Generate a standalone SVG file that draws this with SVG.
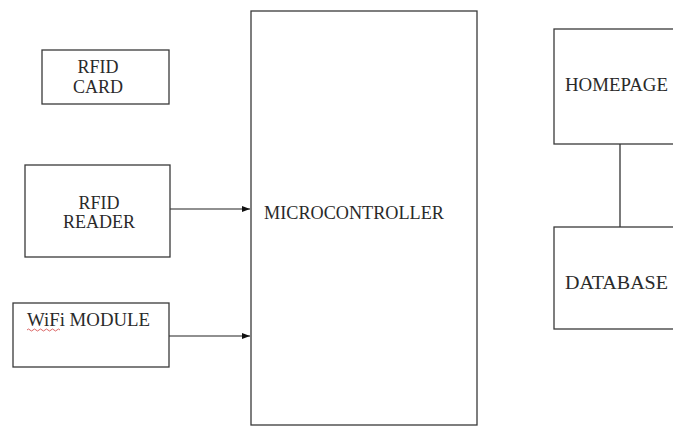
<svg xmlns="http://www.w3.org/2000/svg" width="673" height="426" viewBox="0 0 673 426">
<style>
.box{fill:#fff;stroke:#3a3a3a;stroke-width:1.3}
.lbl{font-family:"Liberation Serif","Times New Roman",serif;font-size:18px;fill:#2a2a2a}
.c{text-anchor:middle}
.wire{stroke:#222;stroke-width:1.2;fill:none}
</style>
<defs>
<marker id="ah" markerWidth="8" markerHeight="6" refX="8" refY="3" orient="auto" markerUnits="userSpaceOnUse">
<path d="M0,0 L8,3 L0,6 Z" fill="#111"/>
</marker>
</defs>
<rect width="673" height="426" fill="#fff"/>
<g id="connectors">
<line class="wire" x1="170" y1="209" x2="250" y2="209" marker-end="url(#ah)"/>
<line class="wire" x1="169" y1="336" x2="250" y2="336" marker-end="url(#ah)"/>
<line class="wire" x1="620" y1="144" x2="620" y2="227"/>
</g>
<g id="rfid-card">
<rect class="box" x="42" y="50" width="127" height="54"/>
<text class="lbl c" x="98" y="73">RFID</text>
<text class="lbl c" x="98" y="93">CARD</text>
</g>
<g id="rfid-reader">
<rect class="box" x="25" y="165" width="145" height="92"/>
<text class="lbl c" x="99" y="209">RFID</text>
<text class="lbl c" x="99" y="228">READER</text>
</g>
<g id="wifi-module">
<rect class="box" x="13" y="303" width="156" height="64"/>
<text class="lbl" x="27" y="326" textLength="123" lengthAdjust="spacingAndGlyphs">WiFi MODULE</text>
<path d="M27,330 q1.5,-2 3,0 t3,0 t3,0 t3,0 t3,0 t3,0 t3,0 t3,0 t3,0 t3,0 t3,0" fill="none" stroke="#d04040" stroke-width="0.8"/>
</g>
<g id="microcontroller">
<rect class="box" x="251" y="11" width="226" height="414"/>
<text class="lbl" x="264" y="219" textLength="180" lengthAdjust="spacingAndGlyphs">MICROCONTROLLER</text>
</g>
<g id="homepage">
<rect class="box" x="554" y="29" width="130" height="115"/>
<text class="lbl" x="565" y="91" textLength="103" lengthAdjust="spacingAndGlyphs">HOMEPAGE</text>
</g>
<g id="database">
<rect class="box" x="554" y="227" width="130" height="102"/>
<text class="lbl" x="565" y="289" textLength="103" lengthAdjust="spacingAndGlyphs">DATABASE</text>
</g>
</svg>
